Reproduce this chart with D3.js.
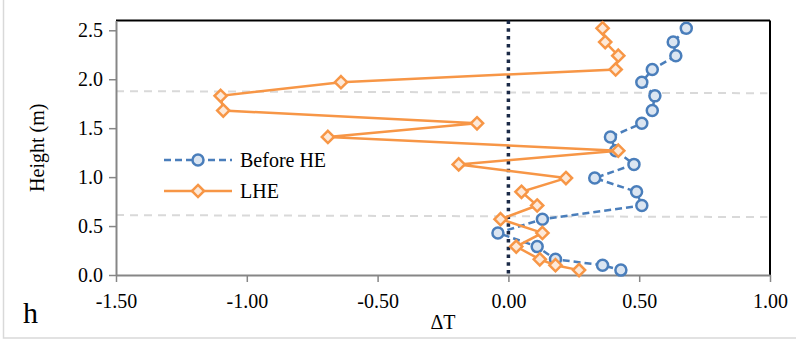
<!DOCTYPE html>
<html>
<head>
<meta charset="utf-8">
<script src="https://cdn.jsdelivr.net/npm/d3@7"></script>
<style>
  body { margin: 0; background: #fff; }
</style>
</head>
<body>
<div id="svg"></div>
<script>
// data
let heights = [2.52, 2.38, 2.24, 2.10, 1.97, 1.83, 1.68, 1.55, 1.41, 1.27, 1.13, 0.99, 0.85, 0.71, 0.57, 0.43, 0.29, 0.16, 0.10, 0.05];
let beforeHE = [0.68, 0.63, 0.64, 0.55, 0.51, 0.56, 0.55, 0.51, 0.39, 0.41, 0.48, 0.33, 0.49, 0.51, 0.13, -0.04, 0.11, 0.18, 0.36, 0.43];
let lhe = [0.36, 0.37, 0.42, 0.41, -0.64, -1.10, -1.09, -0.12, -0.69, 0.42, -0.19, 0.22, 0.05, 0.11, -0.03, 0.13, 0.03, 0.12, 0.18, 0.27];
let xTicks = [-1.5, -1.0, -0.5, 0, 0.5, 1.0];
let yTicks = [0, 0.5, 1.0, 1.5, 2.0, 2.5];
// gray guide lines: [height at left, height at right]
let guides = [[1.878, 1.857], [0.612, 0.592]];
let seriesNames = ['Before HE', 'LHE'];

let w = 796;
let h = 349;
let pLeft = 116, pRight = 770, pTop = 20.5, pBottom = 275;
let serif = 'Liberation Serif, Times New Roman, DejaVu Serif, serif';

let svg = d3.select('#svg')
  .append('svg')
  .attr('width', w)
  .attr('height', h)
  .attr('font-family', serif);

// outer frame
svg.append('rect')
  .attr('x', 3.5)
  .attr('y', -5)
  .attr('width', 810)
  .attr('height', 343)
  .style('fill', 'none')
  .style('stroke', '#d9d9d9')
  .style('stroke-width', 1.5);

let xScale = d3.scaleLinear()
  .domain([-1.5, 1.0])
  .range([pLeft, pRight]);

let yScale = d3.scaleLinear()
  .domain([0, 2.6])
  .range([pBottom, pTop]);

let fx = d => d.toFixed(2);
let fy = d => d.toFixed(1);
let xAxis = d3.axisBottom(xScale).tickValues(xTicks).tickFormat(fx).tickSize(7).tickSizeOuter(0);
let yAxis = d3.axisLeft(yScale).tickValues(yTicks).tickFormat(fy).tickSize(7).tickSizeOuter(0);

// top and right border
svg.append('line')
  .attr('x1', pLeft).attr('x2', pRight)
  .attr('y1', pTop).attr('y2', pTop)
  .style('stroke', '#000').style('stroke-width', 2);
svg.append('line')
  .attr('x1', pRight).attr('x2', pRight)
  .attr('y1', pTop).attr('y2', pBottom)
  .style('stroke', '#000').style('stroke-width', 2);

// guide lines
svg.selectAll('.guide')
  .data(guides)
  .enter()
  .append('line')
  .attr('class', 'guide')
  .attr('x1', xScale(-1.5))
  .attr('x2', xScale(0.99))
  .attr('y1', d => yScale(d[0]))
  .attr('y2', d => yScale(d[1]))
  .style('stroke', '#d9d9d9')
  .style('stroke-width', 2)
  .style('stroke-dasharray', '8,6');

// zero line
svg.append('line')
  .attr('x1', xScale(0)).attr('x2', xScale(0))
  .attr('y1', yScale(2.6)).attr('y2', yScale(0))
  .style('stroke', '#1b2a47')
  .style('stroke-width', 3.5)
  .style('stroke-dasharray', '3.5,4.3');

let gx = svg.append('g')
  .attr('transform', 'translate(0,' + pBottom + ')')
  .call(xAxis);
let gy = svg.append('g')
  .attr('transform', 'translate(' + pLeft + ',0)')
  .call(yAxis);

[gx, gy].forEach(g => {
  g.attr('font-family', serif).attr('font-size', 20);
  g.select('.domain').style('stroke', '#868686').style('stroke-width', 2);
  g.selectAll('.tick line').style('stroke', '#868686').style('stroke-width', 1.5);
  g.selectAll('.tick text').style('fill', '#000');
});
gx.selectAll('.tick text').attr('dy', '0').attr('y', 33);
gy.selectAll('.tick text').attr('x', -13).attr('dy', '0.33em');

let pts = (vals) => vals.map((v, i) => [v, heights[i]]);
let line = d3.line().x(d => xScale(d[0])).y(d => yScale(d[1]));

let blue = '#4a7ebb', orange = '#f79646';
let diamond = d3.symbol().type(d3.symbolDiamond2).size(95);

// Before HE
svg.append('path')
  .datum(pts(beforeHE))
  .attr('d', line)
  .style('fill', 'none')
  .style('stroke', blue)
  .style('stroke-width', 2.5)
  .style('stroke-dasharray', '7,4');
svg.selectAll('.dot')
  .data(pts(beforeHE))
  .enter()
  .append('circle')
  .attr('class', 'dot')
  .attr('cx', d => xScale(d[0]))
  .attr('cy', d => yScale(d[1]))
  .attr('r', 5.5)
  .style('fill', '#dbe5f1')
  .style('stroke', blue)
  .style('stroke-width', 2.5);

// LHE
svg.append('path')
  .datum(pts(lhe))
  .attr('d', line)
  .style('fill', 'none')
  .style('stroke', orange)
  .style('stroke-width', 2.5);
svg.selectAll('.dia')
  .data(pts(lhe))
  .enter()
  .append('path')
  .attr('class', 'dia')
  .attr('d', diamond)
  .attr('transform', d => 'translate(' + xScale(d[0]) + ',' + yScale(d[1]) + ')')
  .style('fill', '#fde9d9')
  .style('stroke', orange)
  .style('stroke-width', 2.5);

// Legend
let lg = svg.append('g');
lg.append('line')
  .attr('x1', 164).attr('x2', 232).attr('y1', 160).attr('y2', 160)
  .style('stroke', blue).style('stroke-width', 2.5).style('stroke-dasharray', '7,4');
lg.append('circle')
  .attr('cx', 198).attr('cy', 160).attr('r', 5.5)
  .style('fill', '#dbe5f1').style('stroke', blue).style('stroke-width', 2.5);
lg.append('line')
  .attr('x1', 164).attr('x2', 232).attr('y1', 191).attr('y2', 191)
  .style('stroke', orange).style('stroke-width', 2.5);
lg.append('path')
  .attr('d', diamond)
  .attr('transform', 'translate(198,191)')
  .style('fill', '#fde9d9').style('stroke', orange).style('stroke-width', 2.5);
lg.selectAll('text')
  .data(seriesNames)
  .enter()
  .append('text')
  .text(d => d)
  .attr('x', 240)
  .attr('y', (d, i) => 167 + i * 31)
  .attr('font-size', 20);

// Axis titles
svg.append('text')
  .text('ΔT')
  .attr('x', (pLeft + pRight) / 2)
  .attr('y', 329)
  .attr('text-anchor', 'middle')
  .attr('font-size', 20);

svg.append('text')
  .text('Height (m)')
  .attr('transform', 'translate(44,' + ((pTop + pBottom) / 2) + ') rotate(-90)')
  .attr('text-anchor', 'middle')
  .attr('font-size', 20);

svg.append('text')
  .text('h')
  .attr('x', 23)
  .attr('y', 323)
  .attr('font-size', 30);
</script>
</body>
</html>
